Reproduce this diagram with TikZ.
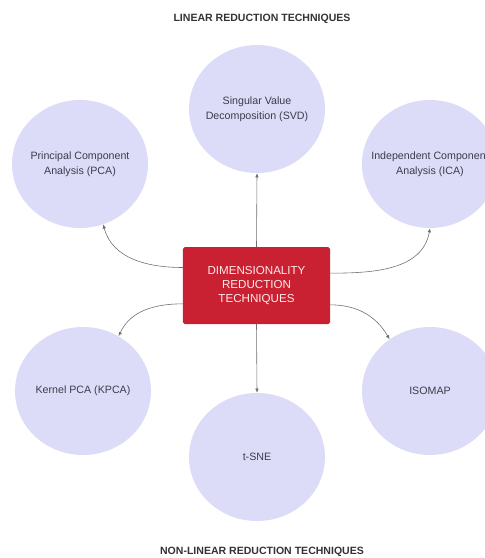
\documentclass[tikz,border=0pt]{standalone}
\usepackage{fontspec}
\setmainfont{Liberation Sans}
\usetikzlibrary{shapes.geometric,arrows.meta}
\definecolor{bubble}{HTML}{DCDCF8}
\definecolor{boxred}{HTML}{C92131}
\definecolor{inktext}{HTML}{3C3C4C}
\definecolor{linkgray}{HTML}{6E6E6E}
\tikzset{
    technique/.style={ellipse, fill=bubble, minimum width=4.08cm, minimum height=3.84cm, inner sep=0pt, label={[techtext]center:#1}},
    techtext/.style={align=center, text=inktext, font=\fontsize{9.1}{12.8}\selectfont},
    hub/.style={rectangle, rounded corners=1.5pt, fill=boxred, minimum width=4.41cm, minimum height=2.31cm, align=center, text=red!8, font=\fontsize{9.9}{12.2}\selectfont},
    heading/.style={text=black!80, font=\fontsize{9}{10}\selectfont\bfseries},
    link/.style={->, draw=linkgray, line width=0.5pt},
    >={Latex[length=3.5pt,width=3pt]}
}
\begin{document}
\begin{tikzpicture}[x=0.03cm, y=-0.03cm]
                \useasboundingbox (0,0) rectangle (485,558);
                \node at (262,19) [heading] (lin) {LINEAR REDUCTION TECHNIQUES};
                \node at (262,552) [heading] (nonlin) {NON-LINEAR REDUCTION TECHNIQUES};
                \node at (256.5,285.5) [hub] (dr) {DIMENSIONALITY\\REDUCTION\\TECHNIQUES};
                \node at (257,109) [technique={Singular Value\\Decomposition (SVD)}] (svd) {};
                \node at (80,164) [technique={Principal Component\\Analysis (PCA)}] (pca) {};
                \node at (430,164) [technique={Independent Component\\Analysis (ICA)}] (ica) {};
                \node at (83,391) [technique={Kernel PCA (KPCA)}] (kpca) {};
                \node at (257,457) [technique={t-SNE}] (tsne) {};
                \node at (430,391) [technique={ISOMAP}] (isomap) {};
                \draw[link] (dr.north) -- (svd.south);
                \draw[link] (dr.south) -- (tsne.north);
                \draw[link] ([yshift=0.54cm]dr.west) to[out=180, in=-75] (pca.-69);
                \draw[link] ([yshift=0.37cm]dr.east) to[out=0, in=-100] (ica.south);
                \draw[link] ([yshift=-0.55cm]dr.west) to[out=180, in=65] (kpca.57);
                \draw[link] ([yshift=-0.58cm]dr.east) to[out=0, in=120] (isomap.128);
\end{tikzpicture}
\end{document}
